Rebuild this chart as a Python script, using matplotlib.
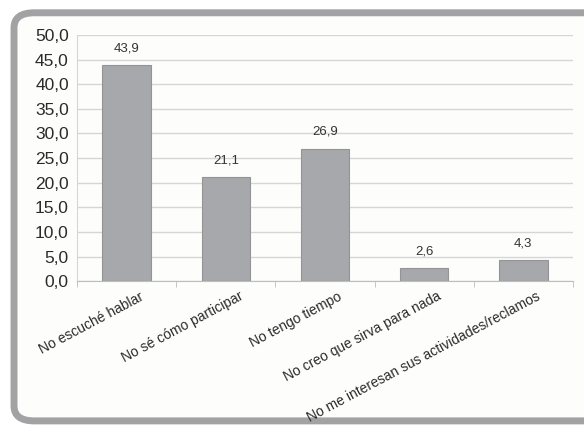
import matplotlib
matplotlib.use("Agg")
import matplotlib.pyplot as plt
from matplotlib.patches import FancyBboxPatch
import matplotlib.transforms as mtransforms

categories = ["No escuché hablar", "No sé cómo participar", "No tengo tiempo",
              "No creo que sirva para nada", "No me interesan sus actividades/reclamos"]
values = [43.9, 21.1, 26.9, 2.6, 4.3]
yticks = [0, 5, 10, 15, 20, 25, 30, 35, 40, 45, 50]

plt.rcParams["font.family"] = ["Liberation Sans Narrow", "Liberation Sans", "DejaVu Sans"]

fig = plt.figure(figsize=(5.84, 4.26), dpi=100)
fig.patch.set_facecolor("white")

# rounded frame around the chart
frame = FancyBboxPatch((0.024, 0.012), 1.05, 0.958, boxstyle="round,pad=0,rounding_size=0.035",
                       transform=fig.transFigure, facecolor="#fdfdfb", edgecolor="#a2a2a4",
                       linewidth=5, zorder=-5)
fig.add_artist(frame)

ax = fig.add_axes([0.132, 0.340, 0.849, 0.578])
ax.set_facecolor("none")

x = list(range(len(categories)))
ax.bar(x, values, width=0.49, color="#a7a8ac", edgecolor="#949497", linewidth=0.8, zorder=3)

for xi, v in zip(x, values):
    ax.text(xi, v + 2.2, f"{v:.1f}".replace(".", ","), ha="center", va="bottom",
            fontsize=9.5, color="#333333")

ax.set_xlim(-0.5, len(categories) - 0.5)
ax.set_ylim(0, 50)
ax.set_yticks(yticks)
ax.set_yticklabels([f"{t:.1f}".replace(".", ",") for t in yticks], fontsize=12.5,
                   family=["Liberation Sans", "DejaVu Sans"], color="#2a2a2a")
ax.yaxis.grid(True, color="#d6d6d6", linewidth=1.0, zorder=0)
ax.tick_params(axis="y", length=0, pad=6)

ax.set_xticks([i - 0.5 for i in range(len(categories) + 1)], minor=True)
ax.set_xticks(x)
ax.set_xticklabels(categories, rotation=28, ha="right", rotation_mode="anchor",
                   fontsize=10, color="#2a2a2a")
ax.tick_params(axis="x", which="major", length=0, pad=6)
ax.tick_params(axis="x", which="minor", length=4, color="#bdbdbd")
offset = mtransforms.ScaledTranslation(13 / 100, 0, fig.dpi_scale_trans)
for lab in ax.get_xticklabels():
    lab.set_transform(lab.get_transform() + offset)

for s in ["top", "right"]:
    ax.spines[s].set_visible(False)
ax.spines["bottom"].set_color("#bdbdbd")
ax.spines["left"].set_color("#d6d6d6")

fig.savefig("out.png", dpi=100)
